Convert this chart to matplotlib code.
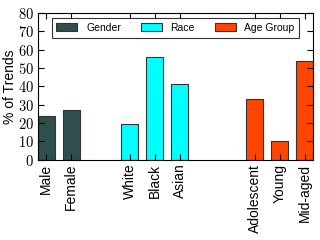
import numpy as np
import matplotlib
matplotlib.use("Agg")
import matplotlib.pyplot as plt
from matplotlib.ticker import FuncFormatter

plt.rcParams['font.family'] = ['Liberation Sans', 'DejaVu Sans']
plt.rcParams['mathtext.fontset'] = 'cm'

# data
gender_labels = ["Male", "Female"]
gender_vals = [24, 27]
race_labels = ["White", "Black", "Asian"]
race_vals = [19.5, 56, 41.5]
age_labels = ["Adolescent", "Young", "Mid-aged"]
age_vals = [33, 10, 54]

gender_pos = [0.0, 1.0]
race_pos = [3.33, 4.33, 5.33]
age_pos = [8.33, 9.33, 10.33]

w = 0.66
fig = plt.figure(figsize=(3.2, 2.4), dpi=100)
ax = fig.add_axes([38/320, 1 - 159.5/240, 275/320, 146.5/240])

ax.bar(gender_pos, gender_vals, w, color="#2F4F4F", edgecolor="#333333", linewidth=0.8, label="Gender")
ax.bar(race_pos, race_vals, w, color="#00FFFF", edgecolor="#333333", linewidth=0.8, label="Race")
ax.bar(age_pos, age_vals, w, color="#FF4500", edgecolor="#333333", linewidth=0.8, label="Age Group")

ax.set_xlim(-w/2, age_pos[-1] + w/2)
ax.set_ylim(0, 80)
ax.set_xticks(gender_pos + race_pos + age_pos)
ax.set_xticklabels(gender_labels + race_labels + age_labels, rotation=90, fontsize=10)
ax.set_yticks(np.arange(0, 81, 10))
# serif (computer modern) numbers on the y axis like the original
ax.yaxis.set_major_formatter(FuncFormatter(lambda v, p: r'$\mathrm{%d}$' % v))
ax.tick_params(direction='in', top=True, right=True, length=4, pad=3)
ax.tick_params(axis='y', labelsize=10.5, pad=3)
ax.set_ylabel("% of Trends", fontsize=10)
ax.yaxis.set_label_coords(-0.075, 0.5)

leg = ax.legend(ncol=3, loc='upper center', fontsize=7.5, frameon=True, fancybox=False,
                edgecolor='black', handlelength=2.0, handleheight=0.75, handletextpad=0.85,
                columnspacing=1.9, borderpad=0.45, borderaxespad=0.5)
leg.get_frame().set_linewidth(0.8)

fig.savefig("out.png", dpi=100)
